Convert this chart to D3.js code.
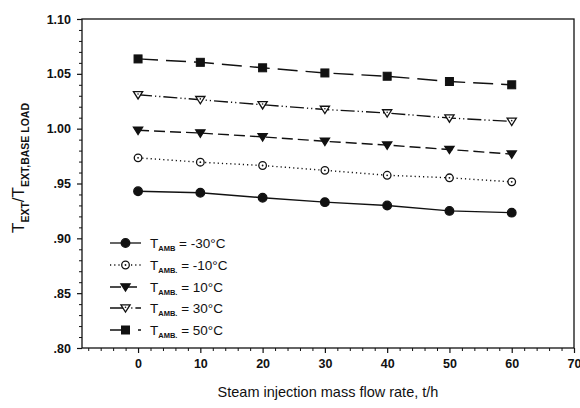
<!DOCTYPE html>
<html>
<head>
<meta charset="utf-8">
<script src="https://cdn.jsdelivr.net/npm/d3@7"></script>
<style>
  html, body { margin: 0; padding: 0; background: #fff; }
  svg { display: block; font-family: "Liberation Sans", Arial, sans-serif; }
</style>
</head>
<body>
<svg id="chart" width="580" height="408"></svg>
<script>
// Steam injection mass flow rate (t/h)
const flowRates = [0, 10, 20, 30, 40, 50, 60];

// T_EXT / T_EXT,BASE LOAD for each ambient temperature
const ambientLabels = ["-30°C", "-10°C", "10°C", "30°C", "50°C"];
const ambientSub = ["AMB", "AMB.", "AMB.", "AMB.", "AMB."];
const ratioM30 = [0.943, 0.9415, 0.937, 0.933, 0.930, 0.925, 0.9234];
const ratioM10 = [0.9734, 0.9694, 0.9664, 0.962, 0.9575, 0.9552, 0.9515];
const ratioP10 = [0.9985, 0.996, 0.9925, 0.9885, 0.985, 0.981, 0.9768];
const ratioP30 = [1.0309, 1.0264, 1.0218, 1.0175, 1.0143, 1.0097, 1.0066];
const ratioP50 = [1.0636, 1.0605, 1.0555, 1.0508, 1.0478, 1.043, 1.040];

const xTicks = [0, 10, 20, 30, 40, 50, 60, 70];
const yTicks = [0.80, 0.85, 0.90, 0.95, 1.00, 1.05, 1.10];
const yTickText = [".80", ".85", ".90", ".95", "1.00", "1.05", "1.10"];

const seriesValues = [ratioM30, ratioM10, ratioP10, ratioP30, ratioP50];
const seriesStyle = [
  { marker: "circle", fill: true, dash: null },
  { marker: "circle", fill: false, dash: "1.2,3" },
  { marker: "tri", fill: true, dash: "11,5" },
  { marker: "tri", fill: false, dash: "14,3,1.2,3,1.2,3" },
  { marker: "square", fill: true, dash: "20,8" }
];

const svg = d3.select("#chart");
const plotL = 82, plotR = 574, plotT = 19, plotB = 348;

const x = d3.scaleLinear().domain([-9, 70]).range([plotL, plotR]);
const y = d3.scaleLinear().domain([0.80, 1.10]).range([plotB, plotT]);

// frame
svg.append("rect")
  .attr("x", plotL).attr("y", plotT)
  .attr("width", plotR - plotL).attr("height", plotB - plotT)
  .attr("fill", "none").attr("stroke", "#111").attr("stroke-width", 1.3);

// x axis
const xAxis = d3.axisBottom(x).tickValues(xTicks).tickSize(5).tickPadding(6)
  .tickFormat(d3.format("d"));
const gx = svg.append("g").attr("transform", `translate(0,${plotB})`).call(xAxis);
gx.select(".domain").remove();
gx.selectAll("line").attr("stroke", "#111").attr("stroke-width", 1.2);
gx.selectAll("text").attr("font-size", 12.5).attr("font-weight", "bold").attr("fill", "#111");

const xMinor = d3.axisBottom(x).tickValues(d3.range(-8, 70, 2).filter(v => v % 10 !== 0))
  .tickSize(3).tickFormat("");
const gxm = svg.append("g").attr("transform", `translate(0,${plotB})`).call(xMinor);
gxm.select(".domain").remove();
gxm.selectAll("line").attr("stroke", "#111");

// y axis
const yAxis = d3.axisLeft(y).tickValues(yTicks).tickSize(5).tickPadding(6)
  .tickFormat((d, i) => yTickText[i]);
const gy = svg.append("g").attr("transform", `translate(${plotL},0)`).call(yAxis);
gy.select(".domain").remove();
gy.selectAll("line").attr("stroke", "#111").attr("stroke-width", 1.2);
gy.selectAll("text").attr("font-size", 12.5).attr("font-weight", "bold").attr("fill", "#111");

const yMinor = d3.axisLeft(y)
  .tickValues(d3.range(81, 110).filter(v => v % 5 !== 0).map(v => v / 100))
  .tickSize(3).tickFormat("");
const gym = svg.append("g").attr("transform", `translate(${plotL},0)`).call(yMinor);
gym.select(".domain").remove();
gym.selectAll("line").attr("stroke", "#111");

// axis titles
svg.append("text")
  .attr("x", 328).attr("y", 397)
  .attr("text-anchor", "middle").attr("font-size", 14.5).attr("fill", "#111")
  .text("Steam injection mass flow rate, t/h");

const yt = svg.append("text")
  .attr("transform", `translate(24,168) rotate(-90)`)
  .attr("text-anchor", "middle").attr("fill", "#111").attr("font-size", 17);
yt.append("tspan").text("T");
yt.append("tspan").attr("font-size", 10.5).attr("font-weight", "bold").attr("dy", 5).text("EXT");
yt.append("tspan").attr("dy", -5).text("/T");
yt.append("tspan").attr("font-size", 10.5).attr("font-weight", "bold").attr("dy", 5).text("EXT,BASE LOAD");

// marker drawing
function drawMarker(g, style, cx, cy) {
  const fill = style.fill ? "#111" : "#fff";
  if (style.marker === "circle") {
    g.append("circle").attr("cx", cx).attr("cy", cy).attr("r", style.fill ? 4.3 : 3.8)
      .attr("fill", fill).attr("stroke", "#111").attr("stroke-width", 1.3);
    if (!style.fill) g.append("circle").attr("cx", cx).attr("cy", cy).attr("r", 0.9).attr("fill", "#111");
  } else if (style.marker === "square") {
    g.append("rect").attr("x", cx - 4).attr("y", cy - 4).attr("width", 8).attr("height", 8)
      .attr("fill", fill).attr("stroke", "#111").attr("stroke-width", 1);
  } else {
    const s = 4.6;
    g.append("path")
      .attr("d", `M${cx - s},${cy - s * 0.7}L${cx + s},${cy - s * 0.7}L${cx},${cy + s * 0.9}Z`)
      .attr("fill", fill).attr("stroke", "#111").attr("stroke-width", 1.3);
    if (!style.fill) g.append("circle").attr("cx", cx).attr("cy", cy - 0.8).attr("r", 0.8).attr("fill", "#111");
  }
}

const line = d3.line().x((d, i) => x(flowRates[i])).y(d => y(d));

seriesValues.forEach((vals, k) => {
  const st = seriesStyle[k];
  const g = svg.append("g");
  g.append("path").datum(vals).attr("d", line)
    .attr("fill", "none").attr("stroke", "#111").attr("stroke-width", 1.4)
    .attr("stroke-dasharray", st.dash);
  vals.forEach((v, i) => drawMarker(g, st, x(flowRates[i]), y(v)));
});

// legend
const legY = [243, 265, 287, 308, 330];
ambientLabels.forEach((lab, k) => {
  const st = seriesStyle[k];
  const g = svg.append("g");
  const ly = legY[k];
  g.append("line").attr("x1", 110).attr("x2", 141).attr("y1", ly).attr("y2", ly)
    .attr("stroke", "#111").attr("stroke-width", 1.3).attr("stroke-dasharray", st.dash);
  drawMarker(g, st, 125.5, ly);
  const t = g.append("text").attr("x", 150).attr("y", ly + 5).attr("font-size", 13.5).attr("fill", "#111");
  t.append("tspan").text("T");
  t.append("tspan").attr("font-size", 7.5).attr("font-weight", "bold").attr("dy", 3).text(ambientSub[k]);
  t.append("tspan").attr("dy", -3).text(" = " + lab);
});
</script>
</body>
</html>
